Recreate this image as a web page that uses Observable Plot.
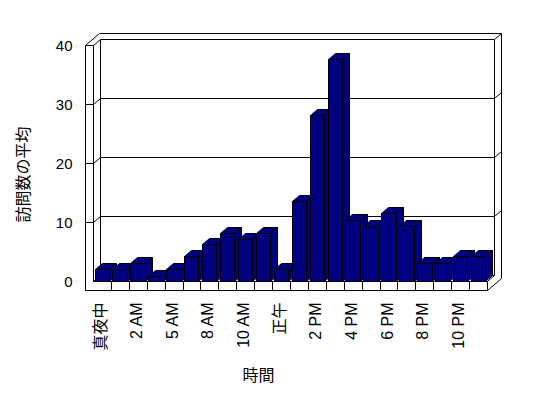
<!DOCTYPE html>
<html><head><meta charset="utf-8">
<script src="https://cdn.jsdelivr.net/npm/d3@7"></script>
<script src="https://cdn.jsdelivr.net/npm/@observablehq/plot@0.6"></script>
<style>html,body{margin:0;padding:0;background:#fff}svg{display:block}</style>
</head><body><div id="chart"></div>
<script>
// Categories (hours shown on the chart; two hours are absent in the source)
const hours = ["真夜中","1 AM","2 AM","3 AM","5 AM","6 AM","8 AM","9 AM","10 AM","11 AM","正午",
  "1 PM","2 PM","3 PM","4 PM","5 PM","6 PM","7 PM","8 PM","9 PM","10 PM","11 PM"];
// Average visits per hour
const visits = [2.0,2.0,3.0,0.9,2.0,4.2,6.2,8.2,7.2,8.2,2.0,13.5,28.1,37.6,10.4,9.3,11.5,9.3,3.0,3.0,4.2,4.2];
// Tick labels
const xTickLabels = ["真夜中","2 AM","5 AM","8 AM","10 AM","正午","2 PM","4 PM","6 PM","8 PM","10 PM"];
const yTicks = [0,10,20,30,40];
const yTitle = "訪問数の平均";
const xTitle = "時間";

const data = hours.map((h, i) => ({hour: h, value: visits[i]}));

const DX = 7, DY = -6;       // depth vector
const WALL = 8, FLOOR = 9;   // wall / floor slab thickness
const BAR = "#000080";
const c = v => Math.floor(v) + 0.5;

function line(g, x1, y1, x2, y2) {
  g.append("line").attr("x1", x1).attr("y1", y1).attr("x2", x2).attr("y2", y2);
}

function frame3d(index, scales, values, dimensions) {
  const X = scales.x, Y = scales.y;
  const L = c(dimensions.marginLeft), R = c(dimensions.width - dimensions.marginRight);
  const B = c(Y(0)), T = c(Y(40));
  const g = d3.create("svg:g").attr("stroke", "#000").attr("stroke-width", 1).attr("fill", "none");
  const OL = L - WALL, FB = B + FLOOR;
  // left wall front face
  line(g, OL, T, OL, FB);
  line(g, L, T, L, B);
  line(g, OL, T, L, T);
  // top edges
  line(g, OL, T, OL + 2*DX, T + 2*DY);
  line(g, L, T, L + DX, T + DY);
  line(g, L + DX, T + DY, R + DX, T + DY);
  line(g, OL + 2*DX, T + 2*DY, R + 2*DX, T + 2*DY);
  line(g, R + DX, T + DY, R + 2*DX, T + 2*DY);
  // back wall edges
  line(g, L + DX, T + DY, L + DX, B + DY);
  line(g, R + DX, T + DY, R + DX, B + DY);
  line(g, R + 2*DX, T + 2*DY, R + 2*DX, FB + 2*DY);
  line(g, R, FB, R + 2*DX, FB + 2*DY);
  line(g, R, B, R + DX, B + DY);
  line(g, L, B, L + DX, B + DY);
  line(g, L + DX, B + DY, R + DX, B + DY);
  // floor front face with category cells
  line(g, L, B, R, B);
  line(g, OL, FB, R, FB);
  line(g, R, B, R, FB);
  const n = X.domain().length, step = (R - L) / n;
  for (let k = 1; k < n; k++) line(g, c(L + k*step), B, c(L + k*step), FB);
  // gridlines
  for (const v of yTicks) {
    if (v === 0 || v === 40) continue;
    const y = c(Y(v));
    line(g, OL, y, L, y);
    line(g, L, y, L + DX, y + DY);
    line(g, L + DX, y + DY, R + DX, y + DY);
    line(g, R + DX, y + DY, R + 2*DX, y + 2*DY);
  }
  return g.node();
}

function bars3d(index, scales, values, dimensions) {
  const X = scales.x, Y = scales.y;
  const bw = X.bandwidth();
  const g = d3.create("svg:g").attr("stroke", "#000").attr("stroke-width", 1).attr("fill", BAR);
  for (const i of index) {
    const x0 = c(X(data[i].hour)), x1 = c(X(data[i].hour) + bw);
    const yT = c(Y(data[i].value)), yB = c(Y(0));
    g.append("polygon").attr("points", [[x1,yT],[x1+DX,yT+DY],[x1+DX,yB+DY],[x1,yB]].join(" "));
    g.append("polygon").attr("points", [[x0,yT],[x1,yT],[x1+DX,yT+DY],[x0+DX,yT+DY]].join(" "));
    g.append("rect").attr("x", x0).attr("y", yT).attr("width", x1 - x0).attr("height", yB - yT);
  }
  return g.node();
}

const chart = Plot.plot({
  width: 548,
  height: 398,
  marginLeft: 93.5,
  marginRight: 60.7,
  marginTop: 45.5,
  marginBottom: 116.5,
  style: {fontFamily: "'Liberation Sans','Noto Sans CJK JP',sans-serif", background: "#fff", color: "#000"},
  x: {type: "band", domain: hours, paddingInner: 0.2, paddingOuter: 0.085, round: false, axis: null},
  y: {domain: [0, 40], axis: null},
  marks: [
    frame3d,
    Plot.barY(data, {x: "hour", y: "value", fill: BAR, stroke: "#000", render: bars3d}),
    Plot.axisY(yTicks, {anchor: "left", tickSize: 0, tickPadding: 21.5, fontSize: 15, label: null}),
    Plot.axisX(xTickLabels, {anchor: "bottom", tickSize: 0, tickPadding: 20.5, tickRotate: -90, dx: -2, fontSize: 16, label: null}),
    Plot.text([yTitle], {frameAnchor: "left", textAnchor: "middle", lineAnchor: "middle", rotate: -90, dx: -70.5, dy: 10.5, fontSize: 16, letterSpacing: "2px"}),
    Plot.text([xTitle], {frameAnchor: "bottom", textAnchor: "middle", lineAnchor: "middle", dx: -32.4, dy: 93.5, fontSize: 16})
  ]
});
document.getElementById("chart").append(chart);
</script>
</body></html>
